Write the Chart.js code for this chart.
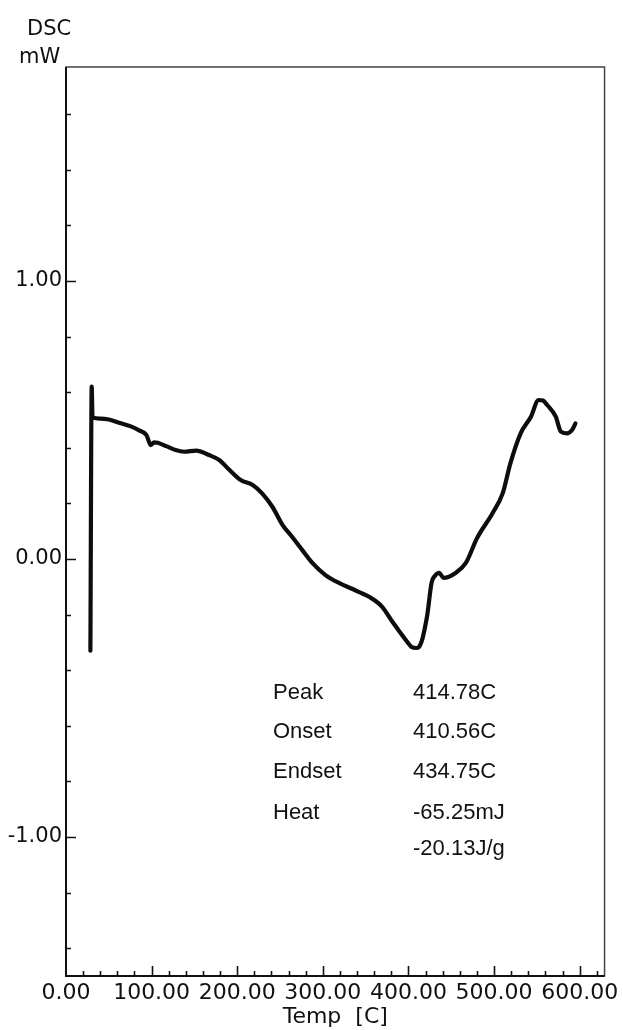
<!DOCTYPE html>
<html>
<head>
<meta charset="utf-8">
<script src="https://cdn.jsdelivr.net/npm/chart.js@4.4.1/dist/chart.umd.min.js"></script>
<style>
  html, body { margin: 0; padding: 0; background: #fff; }
  canvas { display: block; }
</style>
</head>
<body>
<canvas id="dsc" width="623" height="1030"></canvas>
<script>
// DSC trace: temperature (°C) and heat flow (mW)
const temps = [
  28.5, 30, 31, 40, 50, 62, 75, 86, 94, 99, 103, 107, 117, 128, 138, 152,
  167, 179, 191, 204, 218, 229, 241, 253, 264, 276, 288, 303, 320, 334,
  343, 354, 369, 381, 391, 399, 404, 409, 412, 416, 419, 422, 427, 431,
  436, 441, 455, 467, 480, 498, 510, 519, 531, 543, 552, 557, 562, 572,
  578, 585, 591, 595
];
const dscValues = [
  -0.33, 0.62, 0.51, 0.505, 0.502, 0.49, 0.478, 0.462, 0.446, 0.41, 0.42, 0.418, 0.406, 0.392, 0.386, 0.39,
  0.374, 0.356, 0.32, 0.284, 0.266, 0.236, 0.188, 0.122, 0.08, 0.032, -0.015, -0.058, -0.088, -0.107,
  -0.12, -0.136, -0.171, -0.225, -0.267, -0.3, -0.317, -0.32, -0.317, -0.29, -0.25, -0.2, -0.085, -0.06,
  -0.05, -0.068, -0.05, -0.014, 0.075, 0.164, 0.236, 0.344, 0.452, 0.512, 0.572, 0.57, 0.554, 0.512,
  0.458, 0.452, 0.464, 0.488
];

// Axis ranges and labelled ticks
const xRange = [0, 629];
const yRange = [-1.5, 1.77];
const xTickValues = [0, 100, 200, 300, 400, 500, 600];
const yTickValues = [-1, 0, 1];
const xMinorStep = 20;
const yMinorStep = 0.2;

// Peak analysis results
const resultNames = ['Peak', 'Onset', 'Endset', 'Heat', ''];
const resultValues = ['414.78C', '410.56C', '434.75C', '-65.25mJ', '-20.13J/g'];

const points = temps.map((t, i) => ({ x: t, y: dscValues[i] }));

// Frame, inward tick marks, unit header and the result table
const framePlugin = {
  id: 'dscFrame',
  afterDraw(chart) {
    const { ctx, chartArea: a, scales: { x, y } } = chart;
    ctx.save();
    ctx.lineCap = 'butt';

    // plot frame
    ctx.strokeStyle = '#444';
    ctx.lineWidth = 1.5;
    ctx.strokeRect(a.left, a.top, a.right - a.left, a.bottom - a.top);
    ctx.strokeStyle = '#111';
    ctx.lineWidth = 2;
    ctx.beginPath();
    ctx.moveTo(a.left, a.top);
    ctx.lineTo(a.left, a.bottom);
    ctx.lineTo(a.right, a.bottom);
    ctx.stroke();

    // x ticks pointing up into the plot
    ctx.lineWidth = 1.6;
    ctx.beginPath();
    for (let v = xMinorStep; v < xRange[1]; v += xMinorStep) {
      const px = Math.round(x.getPixelForValue(v)) + 0.5;
      const len = v % 100 === 0 ? 10 : 5;
      ctx.moveTo(px, a.bottom);
      ctx.lineTo(px, a.bottom - len);
    }
    // y ticks pointing right into the plot
    for (let i = Math.ceil(yRange[0] / yMinorStep); i * yMinorStep < yRange[1]; i++) {
      const v = i * yMinorStep;
      const py = Math.round(y.getPixelForValue(v)) + 0.5;
      const len = i % 5 === 0 ? 10 : 5;
      ctx.moveTo(a.left, py);
      ctx.lineTo(a.left + len, py);
    }
    ctx.stroke();

    // unit header above the y axis
    ctx.fillStyle = '#111';
    ctx.font = '21px "DejaVu Sans"';
    ctx.textBaseline = 'alphabetic';
    ctx.textAlign = 'left';
    ctx.fillText('DSC', 27, 35);
    ctx.fillText('mW', 19, 63);

    // result table
    ctx.font = '22px "Liberation Sans"';
    ctx.fillStyle = '#111';
    const baselines = [699, 738, 778, 819, 855];
    resultNames.forEach((name, i) => {
      if (name) ctx.fillText(name, 273, baselines[i]);
      ctx.fillText(resultValues[i], 413, baselines[i]);
    });
    ctx.restore();
  }
};

new Chart(document.getElementById('dsc'), {
  type: 'line',
  data: {
    datasets: [{
      data: points,
      borderColor: '#0d0d0d',
      borderWidth: 4.2,
      borderJoinStyle: 'round',
      borderCapStyle: 'round',
      pointRadius: 0,
      cubicInterpolationMode: 'monotone',
      fill: false
    }]
  },
  options: {
    responsive: false,
    animation: false,
    layout: { padding: { top: 67, right: 17, left: 0, bottom: 0 } },
    plugins: { legend: { display: false }, tooltip: { enabled: false } },
    scales: {
      x: {
        type: 'linear',
        min: xRange[0],
        max: xRange[1],
        afterBuildTicks: s => { s.ticks = xTickValues.map(v => ({ value: v })); },
        afterFit: s => { s.height = 54; },
        grid: { display: false, drawTicks: false },
        border: { display: false },
        ticks: {
          autoSkip: false,
          maxRotation: 0,
          padding: 4,
          color: '#111',
          font: { family: 'DejaVu Sans', size: 22 },
          callback: v => Number(v).toFixed(2)
        },
        title: {
          display: true,
          text: 'Temp  [C]',
          color: '#111',
          font: { family: 'DejaVu Sans', size: 22 },
          padding: { top: 0, bottom: 0 }
        }
      },
      y: {
        type: 'linear',
        min: yRange[0],
        max: yRange[1],
        afterBuildTicks: s => { s.ticks = yTickValues.map(v => ({ value: v })); },
        afterFit: s => { s.width = 66; },
        grid: { display: false, drawTicks: false },
        border: { display: false },
        ticks: {
          padding: 4,
          color: '#111',
          font: { family: 'DejaVu Sans', size: 21 },
          callback: v => Number(v).toFixed(2)
        }
      }
    }
  },
  plugins: [framePlugin]
});
</script>
</body>
</html>
